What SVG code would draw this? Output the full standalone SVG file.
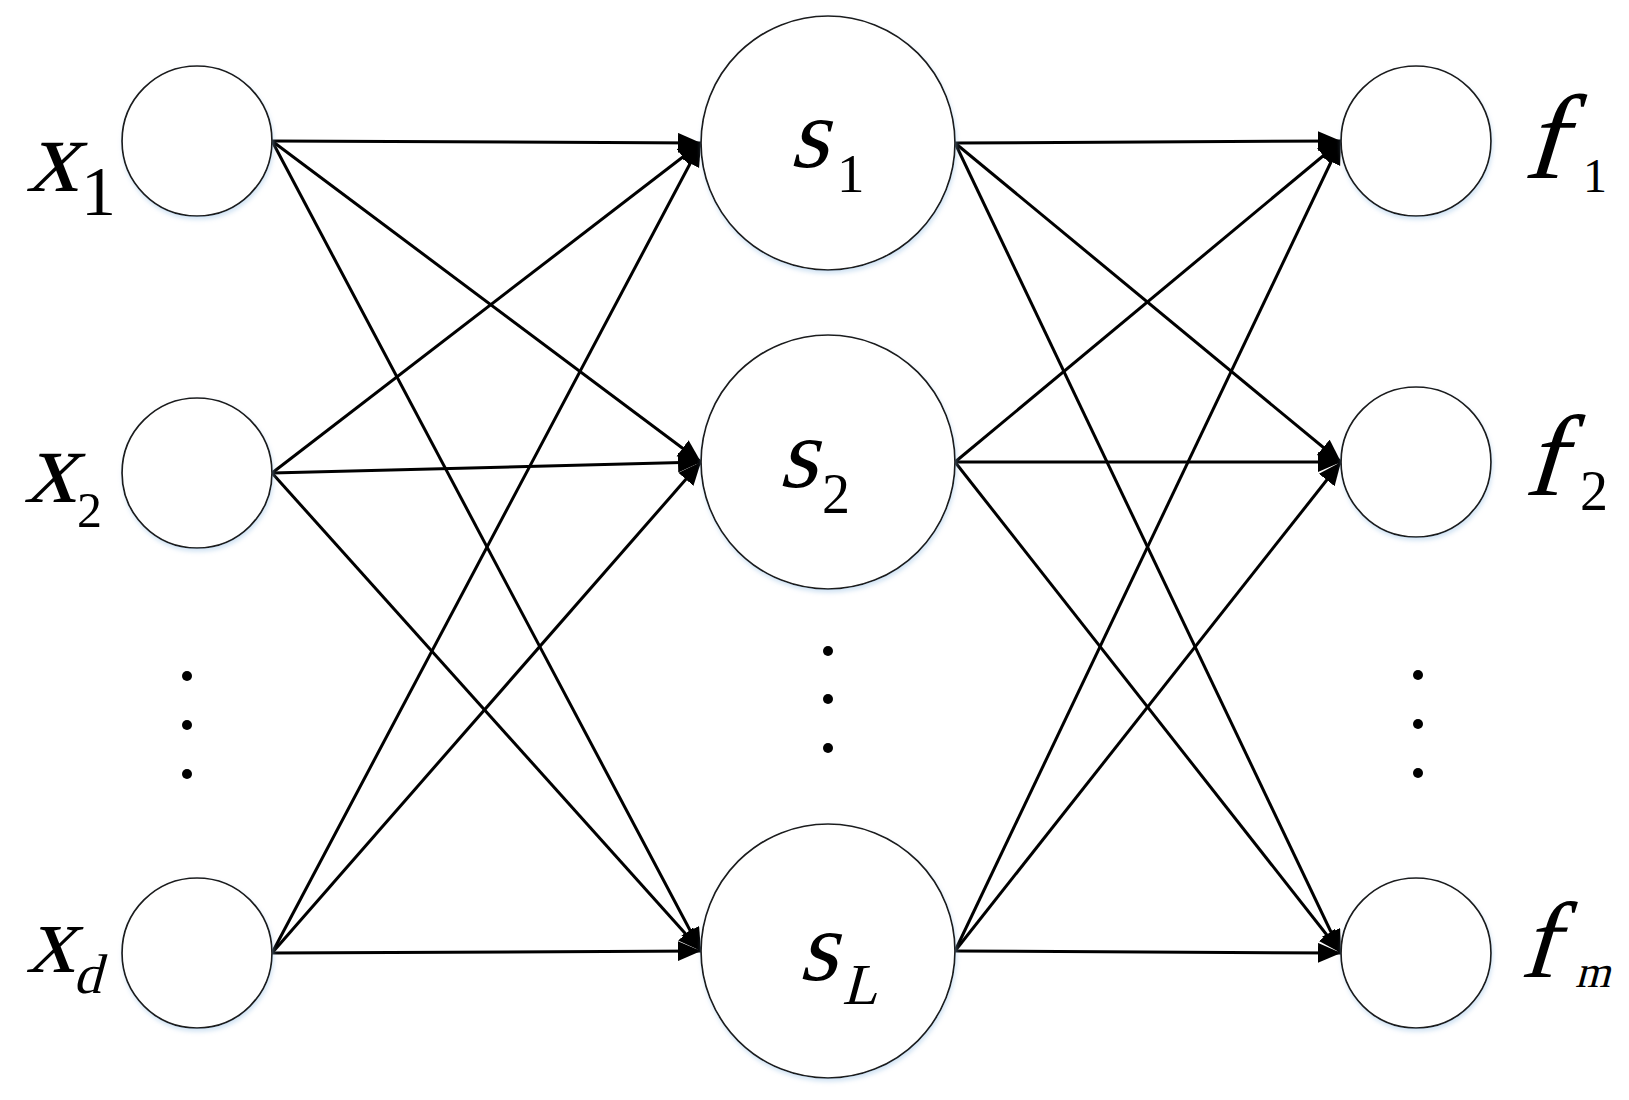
<svg xmlns="http://www.w3.org/2000/svg" width="1629" height="1100" viewBox="0 0 1629 1100">
<style>
.node{fill:#ffffff;stroke:#1a1a1a;stroke-width:1.7;filter:url(#sh)}
.edge{stroke:#000;stroke-width:3;fill:none;marker-end:url(#ah)}
.lbl{font-family:"Liberation Serif","Times New Roman",serif;fill:#000}
.dot{fill:#000}
</style>
<defs>
<marker id="ah" markerUnits="userSpaceOnUse" markerWidth="26" markerHeight="22" refX="23" refY="10" orient="auto">
<path d="M0,0 L23,10 L0,20 Z" fill="#000"/>
</marker>
<filter id="sh" x="-20%" y="-20%" width="140%" height="140%">
<feDropShadow dx="1" dy="3" stdDeviation="2" flood-color="#9ec3e6" flood-opacity="0.45"/>
</filter>
</defs>
<rect width="1629" height="1100" fill="#ffffff"/>
<g id="connectors">
<line class="edge" x1="272" y1="141" x2="701" y2="143"/>
<line class="edge" x1="272" y1="141" x2="701" y2="462"/>
<line class="edge" x1="272" y1="141" x2="701" y2="951"/>
<line class="edge" x1="272" y1="473" x2="701" y2="143"/>
<line class="edge" x1="272" y1="473" x2="701" y2="462"/>
<line class="edge" x1="272" y1="473" x2="701" y2="951"/>
<line class="edge" x1="272" y1="953" x2="701" y2="143"/>
<line class="edge" x1="272" y1="953" x2="701" y2="462"/>
<line class="edge" x1="272" y1="953" x2="701" y2="951"/>
<line class="edge" x1="955" y1="143" x2="1341" y2="141"/>
<line class="edge" x1="955" y1="143" x2="1341" y2="462"/>
<line class="edge" x1="955" y1="143" x2="1341" y2="953"/>
<line class="edge" x1="955" y1="462" x2="1341" y2="141"/>
<line class="edge" x1="955" y1="462" x2="1341" y2="462"/>
<line class="edge" x1="955" y1="462" x2="1341" y2="953"/>
<line class="edge" x1="955" y1="951" x2="1341" y2="141"/>
<line class="edge" x1="955" y1="951" x2="1341" y2="462"/>
<line class="edge" x1="955" y1="951" x2="1341" y2="953"/>
</g>
<g id="x1"><circle class="node" cx="197" cy="141" r="75"/>
<text class="lbl" transform="translate(26,191) skewX(-15)" font-size="105">x</text><text class="lbl" x="81" y="215" font-size="70">1</text></g>
<g id="x2"><circle class="node" cx="197" cy="473" r="75"/>
<text class="lbl" transform="translate(24,502) skewX(-15)" font-size="105">x</text><text class="lbl" x="77" y="527" font-size="50">2</text></g>
<g id="xd"><circle class="node" cx="197" cy="953" r="75"/>
<text class="lbl" transform="translate(26,972) skewX(-15)" font-size="98">x</text><text class="lbl" transform="translate(73,993) skewX(-15)" font-size="56">d</text></g>
<g id="s1"><circle class="node" cx="828" cy="143" r="127"/>
<text class="lbl" transform="translate(789,167) skewX(-15)" font-size="100">s</text><text class="lbl" x="837" y="192" font-size="55">1</text></g>
<g id="s2"><circle class="node" cx="828" cy="462" r="127"/>
<text class="lbl" transform="translate(778,487) skewX(-15)" font-size="100">s</text><text class="lbl" x="822" y="513" font-size="56">2</text></g>
<g id="sL"><circle class="node" cx="828" cy="951" r="127"/>
<text class="lbl" transform="translate(798,980) skewX(-15)" font-size="100">s</text><text class="lbl" transform="translate(842,1004) skewX(-15)" font-size="58">L</text></g>
<g id="f1"><circle class="node" cx="1416" cy="141" r="75"/>
<text class="lbl" transform="translate(1522,178) skewX(-17)" font-size="120">f</text><text class="lbl" x="1583" y="192" font-size="48">1</text></g>
<g id="f2"><circle class="node" cx="1416" cy="462" r="75"/>
<text class="lbl" transform="translate(1523,495) skewX(-17)" font-size="115">f</text><text class="lbl" x="1580" y="510" font-size="56">2</text></g>
<g id="fm"><circle class="node" cx="1416" cy="953" r="75"/>
<text class="lbl" transform="translate(1519,977) skewX(-17)" font-size="108">f</text><text class="lbl" transform="translate(1575,987) skewX(-15)" font-size="45">m</text></g>
<g id="dots">
<circle class="dot" cx="187" cy="676" r="5"/><circle class="dot" cx="187" cy="725" r="5"/><circle class="dot" cx="187" cy="774" r="5"/>
<circle class="dot" cx="828" cy="651" r="5"/><circle class="dot" cx="828" cy="699" r="5"/><circle class="dot" cx="828" cy="748" r="5"/>
<circle class="dot" cx="1418" cy="675" r="5"/><circle class="dot" cx="1418" cy="724" r="5"/><circle class="dot" cx="1418" cy="773" r="5"/>
</g>
</svg>
